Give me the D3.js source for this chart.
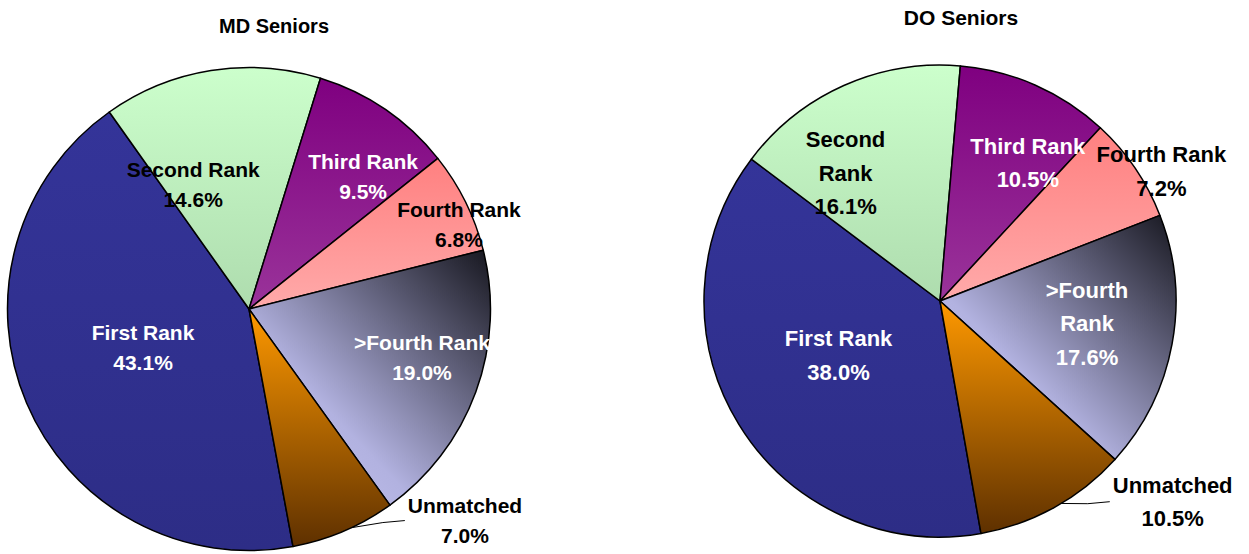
<!DOCTYPE html>
<html>
<head>
<meta charset="utf-8">
<script src="https://cdn.jsdelivr.net/npm/d3@7"></script>
<style>
  body { margin: 0; background: #fff; }
  svg text { font-family: Arial, "Liberation Sans", sans-serif; font-weight: bold; }
</style>
</head>
<body>
<div id="chart"></div>
<script>
// Data
const categories = ['First Rank', 'Second Rank', 'Third Rank', 'Fourth Rank', '>Fourth Rank', 'Unmatched'];
const mdValues = [43.1, 14.6, 9.5, 6.8, 19.0, 7.0];
const doValues = [38.0, 16.1, 10.5, 7.2, 17.6, 10.5];
const mdLabelLines = [['First Rank'], ['Second Rank'], ['Third Rank'], ['Fourth Rank'], ['>Fourth Rank'], ['Unmatched']];
const doLabelLines = [['First Rank'], ['Second', 'Rank'], ['Third Rank'], ['Fourth Rank'], ['>Fourth', 'Rank'], ['Unmatched']];

// Slice fills: gradient stops [offset, colour] and direction
const fills = [
  { stops: [[0, '#343499'], [1, '#2d2d86']], dir: 'v' },
  { stops: [[0, '#ccffcc'], [1, '#aedcae']], dir: 'v' },
  { stops: [[0, '#7f0080'], [1, '#9a349a']], dir: 'v' },
  { stops: [[0, '#ff8080'], [1, '#ffaaaa']], dir: 'v' },
  { stops: [[0, '#c6c6f4'], [0.35, '#b2b2e0'], [1, '#16161e']], dir: 'd' },
  { stops: [[0, '#ff9900'], [1, '#5e3000']], dir: 'v' }
];
const textColors = ['#fff', '#000', '#fff', '#000', '#fff', '#000'];

const width = 1249;
const height = 554;

const svg = d3.select('#chart')
  .append('svg')
  .attr('width', width)
  .attr('height', height);

const defs = svg.append('defs');

// label placement: [angle offset from slice middle (deg), radius fraction]
const charts = [
  {
    id: 'md', title: 'MD Seniors', values: mdValues, lines: mdLabelLines,
    cx: 249, cy: 309, r: 241.5, start: 169.5,
    titleX: 274, titleY: 33, fontSize: 21, lineHeight: 30,
    place: [[2.9, 0.467], [-15.1, 0.565], [6.4, 0.724], [4.3, 0.938], [-4.4, 0.744], [-22.5, 1.252]]
  },
  {
    id: 'do', title: 'DO Seniors', values: doValues, lines: doLabelLines,
    cx: 940, cy: 301, r: 236, start: 170,
    titleX: 961, titleY: 24.5, fontSize: 22, lineHeight: 33.5,
    place: [[3.5, 0.487], [-12.3, 0.675], [8.5, 0.695], [3.8, 1.088], [-1.9, 0.630], [-20.3, 1.302]]
  }
];

const rad = deg => deg * Math.PI / 180;
const fmt = d3.format('.1f');

charts.forEach(cfg => {
  // gradients for this chart
  fills.forEach((f, i) => {
    const grad = defs.append('linearGradient')
      .attr('id', `${cfg.id}-grad-${i}`)
      .attr('x1', 0).attr('y1', f.dir === 'd' ? 1 : 0)
      .attr('x2', f.dir === 'd' ? 1 : 0).attr('y2', f.dir === 'd' ? 0 : 1);
    f.stops.forEach(s => {
      grad.append('stop').attr('offset', s[0]).attr('stop-color', s[1]);
    });
  });

  const pie = d3.pie()
    .sort(null)
    .startAngle(rad(cfg.start))
    .endAngle(rad(cfg.start + 360));

  const arcs = pie(cfg.values);

  const arc = d3.arc()
    .innerRadius(0)
    .outerRadius(cfg.r);

  const g = svg.append('g')
    .attr('transform', `translate(${cfg.cx}, ${cfg.cy})`);

  g.selectAll('path')
    .data(arcs)
    .enter()
    .append('path')
    .attr('d', arc)
    .attr('fill', (d, i) => `url(#${cfg.id}-grad-${i})`)
    .attr('stroke', '#000')
    .attr('stroke-width', 1.5)
    .attr('stroke-linejoin', 'round');

  // Labels
  arcs.forEach((d, i) => {
    const mid = (d.startAngle + d.endAngle) / 2;
    const [dA, frac] = cfg.place[i];
    const [lx, ly] = d3.pointRadial(mid + rad(dA), cfg.r * frac);
    const lines = cfg.lines[i].concat([fmt(d.data) + '%']);
    const n = lines.length;

    const text = g.append('text')
      .attr('text-anchor', 'middle')
      .attr('font-size', cfg.fontSize)
      .attr('fill', textColors[i]);

    lines.forEach((line, k) => {
      text.append('tspan')
        .attr('x', lx)
        .attr('y', ly + (k - (n - 1) / 2) * cfg.lineHeight)
        .attr('dy', '0.36em')
        .text(line);
    });

    // Leader line for the label sitting outside the pie
    if (frac > 1.2) {
      const firstW = text.select('tspan').node().getComputedTextLength();
      const left = lx - firstW / 2 - 3;
      const [ax, ay] = d3.pointRadial(mid - rad(2), cfg.r);
      g.append('polyline')
        .attr('points', `${left},${ly} ${left - 22},${ly + 2} ${ax},${ay}`)
        .attr('fill', 'none')
        .attr('stroke', '#000')
        .attr('stroke-width', 1);
    }
  });

  // Title
  svg.append('text')
    .attr('x', cfg.titleX)
    .attr('y', cfg.titleY)
    .attr('text-anchor', 'middle')
    .attr('font-size', cfg.fontSize - 1)
    .attr('fill', '#000')
    .text(cfg.title);
});
</script>
</body>
</html>
